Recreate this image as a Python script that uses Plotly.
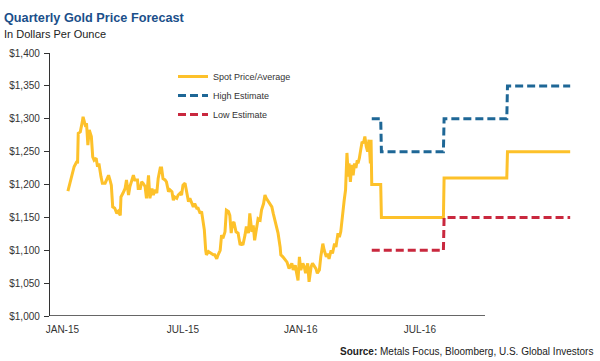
import plotly.graph_objects as go
import pandas as pd

# ---- historical spot gold price ----
spot_dates = [
    "2015-01-02","2015-01-07","2015-01-11","2015-01-15","2015-01-16","2015-01-17","2015-01-20","2015-01-23",
    "2015-01-24","2015-01-27","2015-01-29","2015-01-31","2015-02-02","2015-02-05","2015-02-07","2015-02-09",
    "2015-02-12","2015-02-14","2015-02-16","2015-02-19","2015-02-21","2015-02-25","2015-02-27","2015-03-02",
    "2015-03-04","2015-03-06","2015-03-08","2015-03-11","2015-03-14","2015-03-16","2015-03-19","2015-03-20",
    "2015-03-23","2015-03-26","2015-03-28","2015-03-31","2015-04-02","2015-04-05","2015-04-07","2015-04-09",
    "2015-04-13","2015-04-14","2015-04-17","2015-04-19","2015-04-21","2015-04-24","2015-04-26","2015-04-29",
    "2015-05-01","2015-05-04","2015-05-06","2015-05-08","2015-05-11","2015-05-13","2015-05-16","2015-05-18",
    "2015-05-20","2015-05-23","2015-05-25","2015-05-28","2015-05-30","2015-06-02","2015-06-04","2015-06-06",
    "2015-06-09","2015-06-11","2015-06-14","2015-06-16","2015-06-18","2015-06-21","2015-06-23","2015-06-26",
    "2015-06-28","2015-07-01","2015-07-03","2015-07-05","2015-07-08","2015-07-10","2015-07-13","2015-07-15",
    "2015-07-17","2015-07-19","2015-07-21","2015-07-22","2015-07-25","2015-07-29","2015-08-01","2015-08-03",
    "2015-08-06","2015-08-08","2015-08-11","2015-08-13","2015-08-15","2015-08-18","2015-08-20","2015-08-23",
    "2015-08-25","2015-08-27","2015-08-29","2015-08-31","2015-09-03","2015-09-06","2015-09-09","2015-09-11",
    "2015-09-13","2015-09-16","2015-09-18","2015-09-21","2015-09-23","2015-09-26","2015-09-28","2015-09-30",
    "2015-10-03","2015-10-05","2015-10-08","2015-10-10","2015-10-13","2015-10-15","2015-10-17","2015-10-20",
    "2015-10-22","2015-10-25","2015-10-27","2015-10-30","2015-11-01","2015-11-03","2015-11-06","2015-11-07",
    "2015-11-10","2015-11-13","2015-11-16","2015-11-19","2015-11-23","2015-11-25","2015-11-28","2015-11-30",
    "2015-12-02","2015-12-04","2015-12-06","2015-12-09","2015-12-11","2015-12-13","2015-12-16","2015-12-18",
    "2015-12-21","2015-12-23","2015-12-26","2015-12-28","2015-12-30","2016-01-02","2016-01-04","2016-01-07",
    "2016-01-09","2016-01-12","2016-01-14","2016-01-16","2016-01-19","2016-01-21","2016-01-24","2016-01-26",
    "2016-01-29","2016-01-31","2016-02-02","2016-02-04","2016-02-07","2016-02-09","2016-02-11","2016-02-13",
    "2016-02-14","2016-02-16","2016-02-18","2016-02-20","2016-02-22","2016-02-24","2016-02-26","2016-02-27",
    "2016-02-29","2016-03-02","2016-03-04","2016-03-06","2016-03-08","2016-03-10","2016-03-12","2016-03-14",
    "2016-03-16","2016-03-17",
]
spot_values = [
    1190,1212,1227,1235,1232,1278,1280,1296,
    1303,1291,1293,1260,1283,1273,1242,1237,
    1240,1227,1232,1212,1202,1202,1207,1214,
    1207,1199,1166,1164,1156,1159,1153,1181,
    1187,1194,1207,1184,1197,1207,1214,1207,
    1207,1194,1194,1204,1202,1197,1179,1214,
    1179,1194,1184,1192,1187,1209,1225,1225,
    1209,1207,1204,1189,1192,1189,1176,1181,
    1179,1184,1187,1184,1199,1202,1189,1174,
    1179,1171,1166,1171,1164,1164,1156,1159,
    1146,1131,1100,1093,1098,1095,1093,1093,
    1087,1093,1100,1123,1118,1128,1161,1159,
    1153,1126,1141,1143,1128,1126,1108,1110,
    1108,1123,1136,1126,1156,1128,1138,1115,
    1136,1148,1146,1161,1171,1184,1179,1174,
    1169,1166,1156,1143,1138,1126,1105,1093,
    1090,1086,1082,1072,1080,1070,1077,1065,
    1054,1090,1070,1080,1075,1065,1080,1052,
    1075,1080,1075,1072,1065,1070,1090,1110,
    1100,1090,1095,1087,1100,1095,1110,1105,
    1126,1120,1128,1151,1176,1192,1248,1212,
    1232,1204,1230,1214,1232,1225,1237,1232,
    1240,1253,1265,1263,1273,1258,1250,1268,
    1232,1268,
]

# ---- quarterly forecast ----
q_starts = ["2016-03-18", "2016-04-01", "2016-07-01", "2016-10-01"]
q_end = "2016-12-31"
spot_forecast = [1200, 1150, 1210, 1250]
high_estimate = [1300, 1250, 1300, 1350]
low_estimate = [1100, 1100, 1150, 1150]

tick_dates = ["2014-12-25", "2015-06-18", "2015-12-06", "2016-05-27"]
tick_text = ["JAN-15", "JUL-15", "JAN-16", "JUL-16"]


def step_series(starts, end, values):
    xs, ys = [], []
    bounds = [pd.Timestamp(s) for s in starts] + [pd.Timestamp(end) + pd.Timedelta(days=1)]
    for i, v in enumerate(values):
        xs += [bounds[i], bounds[i + 1] - pd.Timedelta(days=1)]
        ys += [v, v]
    return xs, ys


fx, fy = step_series(q_starts, q_end, spot_forecast)
hx, hy = step_series(q_starts, q_end, high_estimate)
lx, ly = step_series(q_starts, q_end, low_estimate)

spot_x = [pd.Timestamp(d) for d in spot_dates] + fx
spot_y = spot_values + fy

YELLOW = "#FDC12A"
BLUE = "#1E6796"
RED = "#C9283E"
FONT = "Liberation Sans, Arial, sans-serif"

fig = go.Figure()
fig.add_trace(go.Scatter(x=spot_x, y=spot_y, mode="lines", name="Spot Price/Average",
                         line=dict(color=YELLOW, width=3)))
fig.add_trace(go.Scatter(x=hx, y=hy, mode="lines", name="High Estimate",
                         line=dict(color=BLUE, width=3, dash="8px,4px")))
fig.add_trace(go.Scatter(x=lx, y=ly, mode="lines", name="Low Estimate",
                         line=dict(color=RED, width=3, dash="8px,4px")))

W, H = 600, 361
L, R, T, B = 50, 25, 53, 45
PW, PH = W - L - R, H - T - B


def px_x(p):
    return (p - L) / PW


def px_y(p):
    return 1 - (p - T) / PH


fig.update_layout(
    width=W, height=H,
    margin=dict(l=L, r=R, t=T, b=B, autoexpand=False),
    paper_bgcolor="white", plot_bgcolor="white",
    font=dict(family=FONT, size=10, color="#333333"),
    showlegend=True,
    legend=dict(x=px_x(173), y=px_y(62), xanchor="left", yanchor="top",
                font=dict(size=9, color="#333333"), bgcolor="rgba(0,0,0,0)",
                itemwidth=30, tracegroupgap=0),
    xaxis=dict(type="date", range=["2014-12-07", "2017-01-07"],
               tickvals=tick_dates, ticktext=tick_text, ticks="",
               showgrid=False, zeroline=False, showline=False,
               tickfont=dict(size=10, color="#333333"), ticklabelstandoff=6),
    yaxis=dict(range=[1000, 1400], dtick=50, tick0=1000, tickprefix="$", tickformat=",d",
               ticks="outside", ticklen=5, tickcolor="#333333", tickwidth=1,
               showline=True, linecolor="#333333", linewidth=1.3,
               showgrid=False, zeroline=False,
               tickfont=dict(size=10, color="#333333"), ticklabelstandoff=2),
    shapes=[dict(type="line", xref="paper", yref="y", x0=0, x1=px_x(485), y0=1000, y1=1000,
                 line=dict(color="#333333", width=1.3))],
    annotations=[
        dict(text="<b>Quarterly Gold Price Forecast</b>", xref="paper", yref="paper",
             x=px_x(2), y=px_y(18), xanchor="left", yanchor="middle", showarrow=False,
             font=dict(size=12.7, color="#1B4F8A", family=FONT)),
        dict(text="In Dollars Per Ounce", xref="paper", yref="paper",
             x=px_x(2), y=px_y(34), xanchor="left", yanchor="middle", showarrow=False,
             font=dict(size=11, color="#222222", family=FONT)),
        dict(text="<b>Source:</b> Metals Focus, Bloomberg, U.S. Global Investors", xref="paper", yref="paper",
             x=px_x(595), y=px_y(351), xanchor="right", yanchor="middle", showarrow=False,
             font=dict(size=10, color="#222222", family=FONT)),
    ],
)

fig.write_html("out.html", config={"displayModeBar": False},
               post_script="document.body.style.margin='0';")
